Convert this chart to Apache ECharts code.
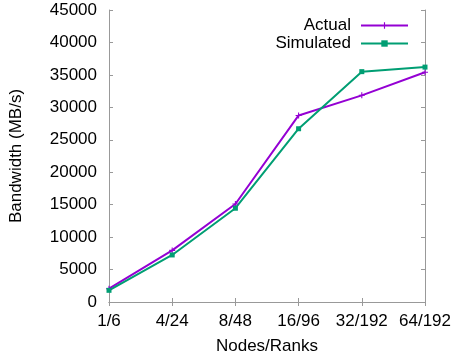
<!DOCTYPE html>
<html lang="en">
<head>
	<meta charset="UTF-8">
	<title>bandwidth</title>
	<style>
		html, body { margin: 0; padding: 0; background: #fff; }
		#main { width: 454px; height: 360px; }
	</style>
	<script src="https://cdn.jsdelivr.net/npm/echarts@6/dist/echarts.min.js"></script>
</head>
<body>
	<div id="main"></div>
	<script>
		// data
		var categories = ['1/6', '4/24', '8/48', '16/96', '32/192', '64/192'];
		var actual = [2050, 7950, 15100, 28750, 31850, 35400];
		var simulated = [1800, 7250, 14450, 26700, 35500, 36200];
		var yTicks = { min: 0, max: 45000, interval: 5000 };

		var font = 'Liberation Sans, Arial, sans-serif';
		var axisGray = '#999';
		var plusPath = 'path://M-1,-0.18H1V0.18H-1Z M-0.18,-1H0.18V1H-0.18Z';

		var chart = echarts.init(document.getElementById('main'));

		var option = {
			animation: false,
			textStyle: { fontFamily: font },
			grid: { left: 108, right: 26, top: 10, bottom: 56 },
			legend: {
				orient: 'vertical',
				right: 40,
				top: 12,
				align: 'right',
				itemWidth: 47,
				itemHeight: 8,
				itemGap: 1,
				textStyle: { fontSize: 17, color: '#000', fontFamily: font, padding: [0, 5, 0, 0] },
				data: ['Actual', 'Simulated']
			},
			xAxis: [{
				type: 'category',
				data: categories,
				boundaryGap: false,
				name: 'Nodes/Ranks',
				nameLocation: 'middle',
				nameGap: 36,
				nameTextStyle: { fontSize: 17, color: '#000' },
				axisLine: { lineStyle: { color: axisGray, width: 1 } },
				axisTick: { inside: true, length: 4, lineStyle: { color: axisGray } },
				axisLabel: { fontSize: 17, color: '#000', margin: 11, interval: 0 },
				splitLine: { show: false }
			}, {
				type: 'category',
				data: categories,
				boundaryGap: false,
				position: 'top',
				axisLine: { lineStyle: { color: axisGray, width: 1 } },
				axisTick: { inside: true, length: 4, interval: 0, lineStyle: { color: axisGray } },
				axisLabel: { show: false },
				splitLine: { show: false }
			}],
			yAxis: [{
				type: 'value',
				min: yTicks.min,
				max: yTicks.max,
				interval: yTicks.interval,
				name: 'Bandwidth (MB/s)',
				nameLocation: 'middle',
				nameGap: 84,
				nameTextStyle: { fontSize: 17, color: '#000' },
				axisLine: { show: true, lineStyle: { color: axisGray, width: 1 } },
				axisTick: { show: true, inside: true, length: 4, lineStyle: { color: axisGray } },
				axisLabel: { fontSize: 17, color: '#000', margin: 12, formatter: function (v) { return String(v); } },
				splitLine: { show: false }
			}, {
				type: 'value',
				min: yTicks.min,
				max: yTicks.max,
				interval: yTicks.interval,
				position: 'right',
				axisLine: { show: true, lineStyle: { color: axisGray, width: 1 } },
				axisTick: { show: true, inside: true, length: 4, lineStyle: { color: axisGray } },
				axisLabel: { show: false },
				splitLine: { show: false }
			}],
			series: [{
				name: 'Actual',
				type: 'line',
				data: actual,
				color: '#9400d3',
				symbol: plusPath,
				symbolSize: 6,
				showAllSymbol: true,
				lineStyle: { width: 2 },
				itemStyle: { color: '#9400d3', borderWidth: 0 }
			}, {
				name: 'Simulated',
				type: 'line',
				data: simulated,
				color: '#009e73',
				symbol: 'rect',
				symbolSize: 5,
				showAllSymbol: true,
				lineStyle: { width: 2 },
				itemStyle: { color: '#009e73', borderWidth: 0 }
			}]
		};

		chart.setOption(option);
	</script>
</body>
</html>
